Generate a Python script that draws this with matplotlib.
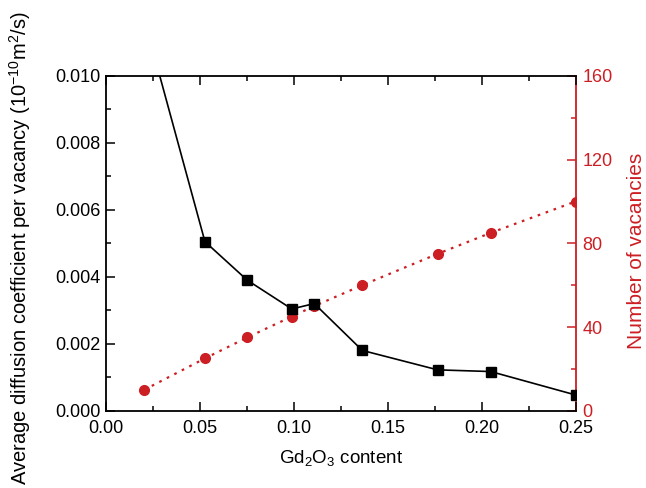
import matplotlib
matplotlib.use("Agg")
import matplotlib.pyplot as plt
from matplotlib.ticker import MultipleLocator

plt.rcParams['font.family'] = ['Liberation Sans', 'DejaVu Sans']
plt.rcParams['mathtext.default'] = 'regular'

x = [0.0204, 0.0527, 0.0752, 0.0989, 0.1109, 0.1365, 0.1766, 0.2048, 0.25]
diffusion = [0.0117, 0.00505, 0.0039, 0.00304, 0.0032, 0.0018, 0.00122, 0.00117, 0.00047]
vacancies = [10, 25, 35, 45, 50, 60, 75, 85, 100]

red = '#cc1f24'

fig = plt.figure(figsize=(6.46, 4.88), dpi=100)
ax = fig.add_axes([0.164, 0.1584, 0.727, 0.6859])
ax2 = ax.twinx()

ax2.plot(x, vacancies, linestyle=(0, (1.2, 2.6)), color=red, lw=1.6,
         marker='o', ms=7, mec=red, mfc=red, zorder=2)
ax.plot(x, diffusion, '-', color='black', lw=1.2, marker='s', ms=7,
        mfc='black', mec='black', zorder=3)
ax.set_zorder(ax2.get_zorder() + 1)
ax.patch.set_visible(False)

ax.set_xlim(0, 0.25)
ax.set_ylim(0, 0.010)
ax2.set_ylim(0, 160)

ax.xaxis.set_major_locator(MultipleLocator(0.05))
ax.xaxis.set_minor_locator(MultipleLocator(0.025))
ax.yaxis.set_major_locator(MultipleLocator(0.002))
ax.yaxis.set_minor_locator(MultipleLocator(0.001))
ax2.yaxis.set_major_locator(MultipleLocator(40))
ax2.yaxis.set_minor_locator(MultipleLocator(20))

ax.xaxis.set_major_formatter(matplotlib.ticker.FormatStrFormatter('%.2f'))
ax.yaxis.set_major_formatter(matplotlib.ticker.FormatStrFormatter('%.3f'))

ax.tick_params(axis='x', which='both', direction='in', top=True, labelsize=13, width=1.1, pad=7)
ax.tick_params(axis='y', which='both', direction='in', labelsize=13, width=1.1, pad=4)
ax.tick_params(which='major', length=6.5)
ax.tick_params(which='minor', length=3.6)
ax2.tick_params(axis='y', which='both', direction='in', colors=red, labelsize=13, width=1.1, pad=5)
ax2.tick_params(which='major', length=6.5)
ax2.tick_params(which='minor', length=3.6)

for s in ax.spines.values():
    s.set_linewidth(1.3)
for s in ax2.spines.values():
    s.set_linewidth(1.3)
ax.spines['right'].set_visible(False)
ax2.spines['right'].set_color(red)
for k in ['top', 'left', 'bottom']:
    ax2.spines[k].set_visible(False)

ax.set_xlabel('Gd$_2$O$_3$ content', fontsize=13.5)
ax.xaxis.set_label_coords(0.5, -0.11)
ax.set_ylabel('Average diffusion coefficient per vacancy (10$^{-10}$m$^2$/s)', fontsize=14.5)
ax.yaxis.set_label_coords(-0.155, 0.486)
ax2.set_ylabel('Number of vacancies', fontsize=15, color=red)
ax2.yaxis.set_label_coords(1.109, 0.477)

fig.savefig('out.png', dpi=100)
